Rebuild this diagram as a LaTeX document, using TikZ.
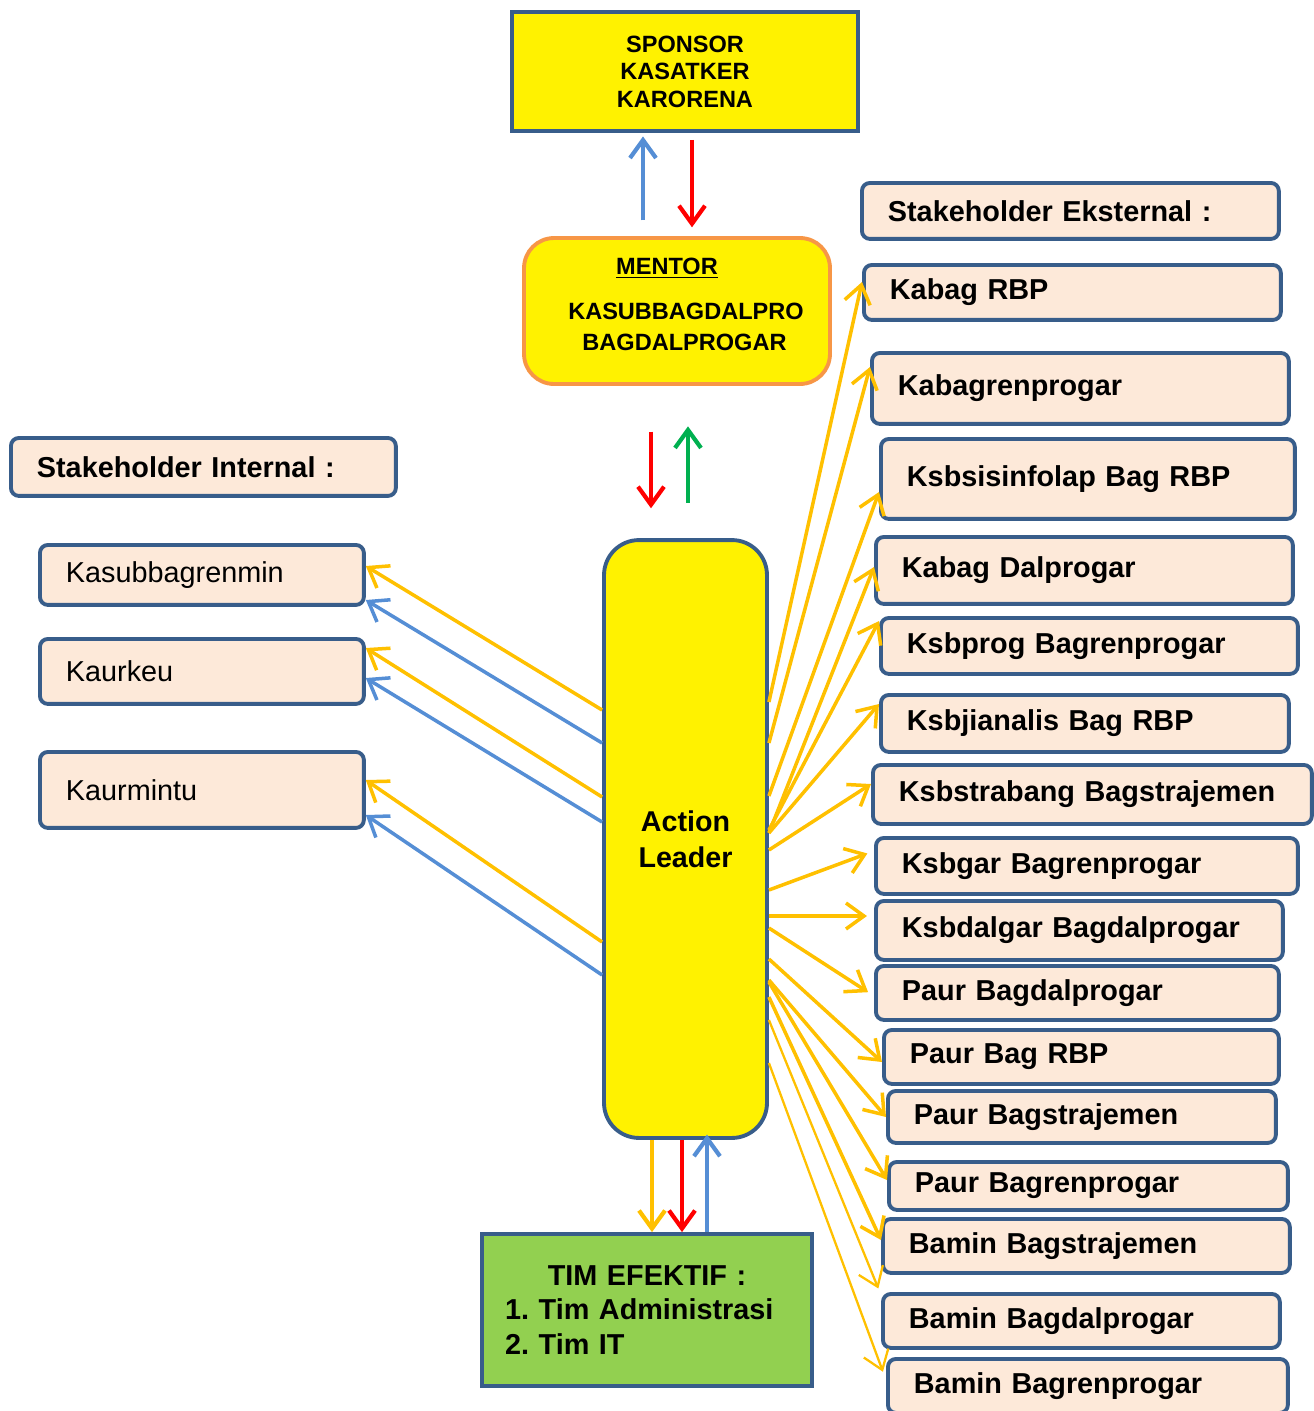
\documentclass[tikz,border=0pt]{standalone}
\usepackage{fontspec}
\setmainfont{Liberation Sans}
\usetikzlibrary{arrows.meta}
\definecolor{frame}{RGB}{56,93,138}
\definecolor{peach}{RGB}{253,233,217}
\definecolor{mentorline}{RGB}{247,150,70}
\definecolor{timgreen}{RGB}{146,208,80}
\definecolor{orangearr}{RGB}{255,192,0}
\definecolor{bluearr}{RGB}{85,142,213}
\definecolor{greenarr}{RGB}{0,176,80}

\begin{document}
\begin{tikzpicture}[x=0.02cm, y=-0.02cm,
    frbox/.style={draw=frame, line width=2.2pt},
    stake/.style 2 args={frbox, fill=peach, rounded corners=0.16cm, anchor=north west,
      inner xsep=0.52cm, inner ysep=0pt, align=left, text width=#1, minimum height=#2,
      font=\bfseries\fontsize{16.4}{20}\selectfont},
    lightfont/.style={font=\fontsize{16.4}{20}\selectfont},
    link/.style={-{Straight Barb[length=0.36cm,width=0.52cm]}, line width=2pt},
    thicklink/.style={link, line width=2.4pt},
    thinlink/.style={link, line width=1.3pt}]
    \useasboundingbox (0,0) rectangle (1313,1411);

    \node[frbox, fill=yellow, minimum width=6.92cm, minimum height=2.38cm, align=center,
      font=\bfseries\fontsize{13.4}{15.6}\selectfont] (sponsor) at (685,71.5)
      {SPONSOR\\KASATKER\\KARORENA};
    \node[frbox, draw=mentorline, fill=yellow, rounded corners=0.6cm, minimum width=6.12cm,
      minimum height=2.92cm, align=center, font=\bfseries\fontsize{13.4}{17.6}\selectfont]
      (mentor) at (677,311) {\underline{MENTOR}\hspace*{0.4cm}\\[8pt]\hspace*{0.36cm}KASUBBAGDALPRO\\
      \hspace*{0.3cm}BAGDALPROGAR\\[-9.6pt]\mbox{}};
    \node[frbox, fill=yellow, rounded corners=0.7cm, minimum width=3.26cm, minimum height=11.96cm,
      align=center, font=\bfseries\fontsize{16.3}{20.4}\selectfont] (leader) at (685.5,839)
      {Action\\Leader};
    \node[frbox, fill=timgreen, minimum width=6.6cm, minimum height=3.04cm, text width=5.68cm,
      inner xsep=0.46cm, align=left, font=\bfseries\fontsize{16.4}{19.6}\selectfont\frenchspacing]
      (tim) at (647,1310) {\makebox[\linewidth]{TIM EFEKTIF :}\\1. Tim Administrasi\\2. Tim IT};

    \node[stake={6.66cm}{1.16cm}] (intstake) at (9,436) {Stakeholder Internal :};
    \node[stake={5.44cm}{1.20cm}, lightfont] (kasub) at (38,543) {Kasubbagrenmin};
    \node[stake={5.44cm}{1.30cm}, lightfont] (kaurkeu) at (38,637) {Kaurkeu};
    \node[stake={5.44cm}{1.52cm}, lightfont] (kaurmintu) at (38,750) {Kaurmintu};

    \node[stake={7.30cm}{1.12cm}] (extstake) at (860,181) {Stakeholder Eksternal :};
    \node[stake={7.30cm}{1.10cm}] (kabagrbp) at (862,263) {Kabag RBP};
    \node[stake={7.30cm}{1.42cm}] (kabagren) at (870,351) {Kabagrenprogar};
    \node[stake={7.24cm}{1.60cm}] (ksbsis) at (879,437) {Ksbsisinfolap Bag RBP};
    \node[stake={7.30cm}{1.34cm}] (kabagdal) at (874,535) {Kabag Dalprogar};
    \node[stake={7.30cm}{1.12cm}] (ksbprog) at (879,616) {Ksbprog Bagrenprogar};
    \node[stake={7.12cm}{1.14cm}] (ksbjian) at (879,693) {Ksbjianalis Bag RBP};
    \node[stake={7.74cm}{1.18cm}] (ksbstra) at (871,763) {Ksbstrabang Bagstrajemen};
    \node[stake={7.40cm}{1.12cm}] (ksbgar) at (874,836) {Ksbgar Bagrenprogar};
    \node[stake={7.10cm}{1.18cm}] (ksbdal) at (874,899) {Ksbdalgar Bagdalprogar};
    \node[stake={7.02cm}{1.08cm}] (paurdal) at (874,964) {Paur Bagdalprogar};
    \node[stake={6.86cm}{1.08cm}] (paurrbp) at (882,1028) {Paur Bag RBP};
    \node[stake={6.72cm}{1.04cm}] (paurstra) at (886,1089) {Paur Bagstrajemen};
    \node[stake={6.94cm}{0.96cm}] (paurren) at (887,1160) {Paur Bagrenprogar};
    \node[stake={7.10cm}{1.08cm}] (baminstra) at (881,1217) {Bamin Bagstrajemen};
    \node[stake={6.90cm}{1.08cm}] (bamindal) at (881,1292) {Bamin Bagdalprogar};
    \node[stake={6.96cm}{1.08cm}] (baminren) at (886,1357) {Bamin Bagrenprogar};

    \draw[thicklink, bluearr, shorten <=9pt, shorten >=2pt] (mentor.north -| 643,0) -- (sponsor.south -| 643,0);
    \draw[thicklink, red, shorten <=4pt, shorten >=5pt] (sponsor.south -| 692,0) -- (mentor.north -| 692,0);
    \draw[thicklink, red, shorten <=26pt, shorten >=17pt] (mentor.south -| 651,0) -- (leader.north -| 651,0);
    \draw[thicklink, greenarr, shorten <=20pt, shorten >=23pt] (leader.north -| 688,0) -- (mentor.south -| 688,0);
    \draw[thicklink, orangearr] (leader.south -| 652,0) -- (tim.north -| 652,0);
    \draw[thicklink, red] (leader.south -| 682,0) -- (tim.north -| 682,0);
    \draw[thicklink, bluearr, shorten >=-3pt] (tim.north -| 707,0) -- (leader.south -| 707,0);

    \draw[link, orangearr] (leader.west |- 0,710) -- (kasub.east |- 0,566);
    \draw[link, bluearr] (leader.west |- 0,743) -- (kasub.east |- 0,600);
    \draw[link, orangearr] (leader.west |- 0,797) -- (kaurkeu.east |- 0,648);
    \draw[link, bluearr] (leader.west |- 0,822) -- (kaurkeu.east |- 0,678);
    \draw[link, orangearr] (leader.west |- 0,942) -- (kaurmintu.east |- 0,780);
    \draw[link, bluearr] (leader.west |- 0,975) -- (kaurmintu.east |- 0,815);

    \draw[link, orangearr] (leader.east |- 0,702) -- (kabagrbp.west |- 0,282);
    \draw[link, orangearr] (leader.east |- 0,743) -- (kabagren.west |- 0,367);
    \draw[link, orangearr] (leader.east |- 0,796) -- (ksbsis.west |- 0,492);
    \draw[link, orangearr] (leader.east |- 0,833) -- (kabagdal.west |- 0,567);
    \draw[link, orangearr] (leader.east |- 0,830) -- (ksbprog.west |- 0,621);
    \draw[link, orangearr] (leader.east |- 0,833) -- (ksbjian.west |- 0,704);
    \draw[link, orangearr] (leader.east |- 0,850) -- (ksbstra.west |- 0,784);
    \draw[link, orangearr, shorten >=4pt] (leader.east |- 0,890) -- (ksbgar.west |- 0,851);
    \draw[link, orangearr, shorten >=4pt] (leader.east |- 0,916) -- (ksbdal.west |- 0,916);
    \draw[link, orangearr, shorten >=4pt] (leader.east |- 0,928) -- (paurdal.west |- 0,996);
    \draw[link, orangearr] (leader.east |- 0,959) -- (paurrbp.west |- 0,1062);
    \draw[link, orangearr] (leader.east |- 0,980) -- (paurstra.west |- 0,1117);
    \draw[link, orangearr] (leader.east |- 0,982) -- (paurren.west |- 0,1180);
    \draw[link, orangearr] (leader.east |- 0,997) -- (baminstra.west |- 0,1240);
    \draw[thinlink, orangearr, shorten >=4pt] (leader.east |- 0,1020) -- (bamindal.west |- 0,1295);
    \draw[thinlink, orangearr, shorten >=5pt] (leader.east |- 0,1063) -- (baminren.west |- 0,1380);
\end{tikzpicture}
\end{document}
